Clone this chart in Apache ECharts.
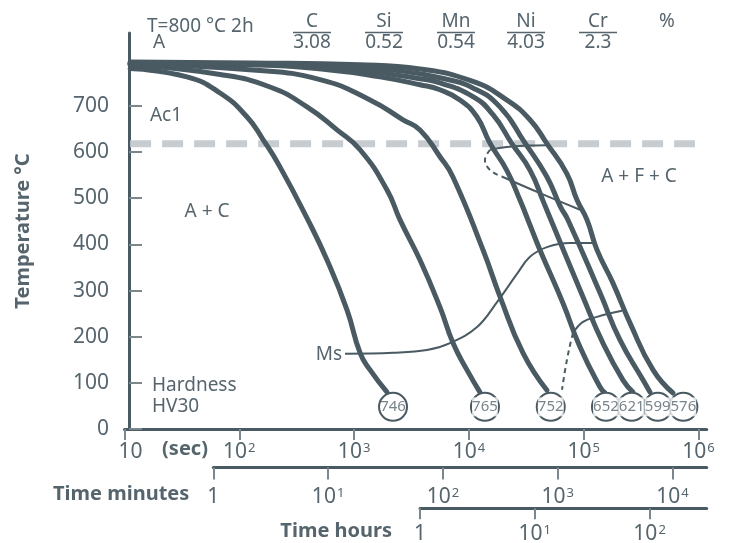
<!DOCTYPE html>
<html>
<head>
<meta charset="utf-8">
<script src="https://cdn.jsdelivr.net/npm/echarts@6/dist/echarts.min.js"></script>
<style>
html,body{margin:0;padding:0;background:#fff;}
#chart{width:729px;height:543px;}
</style>
</head>
<body>
<div id="chart"></div>
<script>
// ---------------- DATA ----------------
// Axis ticks / labels ("^" marks a superscript exponent)
const secTicks = [10, 100, 1000, 10000, 100000, 1000000];
const secLabels = ['10', '10^2', '10^3', '10^4', '10^5', '10^6'];
const minTicks = [1, 10, 100, 1000, 10000];
const minLabels = ['1', '10^1', '10^2', '10^3', '10^4'];
const hourTicks = [1, 10, 100];
const hourLabels = ['1', '10^1', '10^2'];
const tempTicks = [0, 100, 200, 300, 400, 500, 600, 700];

// Composition
const elements = ['C', 'Si', 'Mn', 'Ni', 'Cr'];
const contents = ['3.08', '0.52', '0.54', '4.03', '2.3'];
const austenitizing = 'T=800 °C 2h';

// Ac1 temperature (°C)
const ac1Temp = 618;
const ac1Span = [11.2, 931000];

// Cooling curves: [time (s), temperature (°C)]
const curve1 = [[11.2,781],[35,763],[68,728],[117,676],[161,627],[226,568],[396,453],[581,366],[867,258],[1127,165],[1377,128],[1936,80]];
const curve2 = [[11.2,789],[68,768],[185,741],[389,698],[710,648],[1127,605],[1936,518],[2512,453],[3750,366],[5598,264],[7261,187],[9616,128],[12470,80]];
const curve3 = [[11.2,791],[131.5,778],[505,757],[1377,713],[2667,670],[3750,648],[5598,590],[7261,546],[13270,388],[18660,287],[29580,165],[47860,84]];
const curve4 = [[11.2,791],[124,789],[617,778],[1683,763],[3750,746],[5598,735],[8356,713],[11700,677],[15280,619],[21330,561],[27860,496],[34040,442],[41590,388],[65920,273],[92680,178],[138700,91],[153500,78]];
const curve5 = [[11.2,793],[124,791],[753,782],[2051,769],[3750,759],[5598,750],[10840,720],[16220,681],[23610,619],[34040,561],[44980,490],[54080,442],[98630,286],[147200,186],[219800,106],[268500,80]];
const curve6 = [[11.2,793],[124,791],[920,785],[2512,776],[5598,761],[10840,739],[18620,698],[30760,620],[47640,547],[62660,482],[72950,453],[138700,295],[207000,193],[328900,106],[377600,80]];
const curve7 = [[11.2,795],[124,793],[1127,789],[3750,780],[10840,753],[21330,713],[34040,670],[47640,619],[71120,554],[87500,496],[106900,453],[130600,388],[179900,316],[252900,230],[401800,128],[599800,78]];
const coolingCurves = [curve1, curve2, curve3, curve4, curve5, curve6, curve7];

// Transformation lines
const msLine = [[833.7,163],[2183,165],[4315,171],[6839,186],[11780,221],[17580,275],[26240,336],[34040,373],[47860,394],[76030,403],[120500,403]];
const bainiteEnd = [[80720,208],[98630,232],[130600,243],[215800,256]];
const bainiteEndDashed = [[80720,208],[76030,182],[70150,139],[64710,85]];
const ferriteStart = [[15280,605],[21330,611],[31840,614],[47640,615]];
const ferriteStartDashed = [[15280,605],[13800,583],[15280,561],[19320,547]];
const pearliteLine = [[19320,547],[41590,511],[92900,475]];

// Hardness HV30 at end of each cooling curve
const hardnessTimes = [2183, 13800, 51640, 156300, 261800, 441600, 738200];
const hardnessValues = [746, 765, 752, 652, 621, 599, 576];

// ---------------- STYLE / LAYOUT ----------------
const FONT = 'Noto Sans';
const INK = '#4a5a62';
const TXT = '#56656d';
const TICK = '#7a878d';
const AC1_COLOR = '#c7ccd0';
const HARDNESS_ROW_T = 48;
const compX = [312, 384, 456, 526, 598];

function makeFmt(ticks, labels, shiftFirst) {
  return function (value) {
    const lv = Math.log10(value);
    const i = ticks.findIndex(t => Math.abs(Math.log10(t) - lv) < 1e-6);
    if (i < 0) return '';
    const parts = labels[i].split('^');
    if (parts.length > 1) return parts[0] + '{sup|' + parts[1] + '}';
    return (shiftFirst && i === 0) ? '{shift|' + parts[0] + '}' : parts[0];
  };
}
const richLab = {
  sup: { fontSize: 13, verticalAlign: 'top', color: TXT, fontFamily: FONT, padding: [0, 0, 0, 1] },
  shift: { fontSize: 21, color: TXT, fontFamily: FONT, padding: [0, 0, 0, 12] }
};
function logAxis(grid, min, max, ticks, labels, margin, tickLen, shiftFirst, name, nameGap, namePad) {
  const ax = {
    type: 'log', logBase: 10, gridIndex: grid, min: min, max: max,
    axisLine: { show: true, lineStyle: { color: INK, width: 3 } },
    axisTick: { show: true, customValues: ticks, length: tickLen, lineStyle: { color: TICK, width: 2 } },
    axisLabel: { customValues: ticks, formatter: makeFmt(ticks, labels, shiftFirst), margin: margin,
      color: TXT, fontSize: 21, fontFamily: FONT, rich: richLab },
    splitLine: { show: false },
    minorTick: { show: false }
  };
  if (name) {
    ax.name = name; ax.nameLocation = 'start'; ax.nameGap = nameGap; ax.nameMoveOverlap = false;
    ax.nameTextStyle = { color: TXT, fontSize: 20, fontWeight: 'bold', fontFamily: FONT,
      verticalAlign: 'top', padding: [namePad, 0, 0, 0] };
  }
  return ax;
}

function txt(text, x, y, extra) {
  return { type: 'text', x: x, y: y, silent: true, z: 10,
    style: Object.assign({ text: text, fill: TXT, fontSize: 19, fontFamily: FONT,
      align: 'center', verticalAlign: 'middle' }, extra || {}) };
}

const graphics = [
  txt(austenitizing, 147, 27, { align: 'left' }),
  txt('A', 159, 43),
  txt('%', 667, 22),
  txt('Ac1', 166, 116),
  txt('A + C', 207, 212),
  txt('A + F + C', 639, 177),
  txt('Ms', 329, 355),
  txt('Hardness', 152, 386, { align: 'left' }),
  txt('HV30', 152, 407, { align: 'left' }),
  txt('(sec)', 185, 449, { fontWeight: 'bold', fontSize: 20 })
];
elements.forEach((el, i) => {
  graphics.push(txt(el, compX[i], 22));
  graphics.push(txt(contents[i], compX[i], 43));
  graphics.push({ type: 'line', silent: true, z: 10,
    shape: { x1: compX[i] - 19, y1: 32.5, x2: compX[i] + 19, y2: 32.5 },
    style: { stroke: TXT, lineWidth: 1.5 } });
});

// ---------------- SERIES ----------------
const series = [];
series.push({
  type: 'line', xAxisIndex: 0, yAxisIndex: 0, z: 1, silent: true,
  data: [[ac1Span[0], ac1Temp], [ac1Span[1], ac1Temp]],
  showSymbol: false, symbol: 'none',
  lineStyle: { color: AC1_COLOR, width: 7, type: [21, 11], cap: 'butt' }
});
function thin(data, dashed) {
  return {
    type: 'line', xAxisIndex: 0, yAxisIndex: 0, z: 2, silent: true,
    data: data, showSymbol: false, symbol: 'none', smooth: 0.4,
    lineStyle: { color: INK, width: 2, type: dashed ? [5, 4] : 'solid' }
  };
}
series.push(thin(msLine, false));
series.push(thin(bainiteEnd, false));
series.push(thin(bainiteEndDashed, true));
series.push(thin(ferriteStart, false));
series.push(thin(ferriteStartDashed, true));
series.push(thin(pearliteLine, false));

coolingCurves.forEach(c => {
  series.push({
    type: 'line', xAxisIndex: 0, yAxisIndex: 0, z: 3, silent: true,
    data: c, showSymbol: false, symbol: 'none', smooth: 0.5,
    lineStyle: { color: INK, width: 5, cap: 'round', join: 'round' }
  });
});

const hardnessData = hardnessTimes.map((t, i) => [t, HARDNESS_ROW_T, hardnessValues[i]]);
// circles
series.push({
  type: 'scatter', xAxisIndex: 0, yAxisIndex: 0, z: 5, silent: true,
  symbol: 'circle', symbolSize: 28,
  itemStyle: { color: '#ffffff', borderColor: INK, borderWidth: 2, opacity: 1 },
  label: { show: false },
  data: hardnessData
});
// hardness numbers on top of all circles
series.push({
  type: 'scatter', xAxisIndex: 0, yAxisIndex: 0, z: 6, silent: true,
  symbol: 'circle', symbolSize: 1,
  itemStyle: { color: 'rgba(0,0,0,0)' },
  label: { show: true, position: 'inside', color: TXT, fontSize: 15, fontFamily: FONT,
    backgroundColor: '#ffffff', padding: [2, 0], formatter: p => String(p.value[2]) },
  data: hardnessData.map((d, i) => i === 0 ? { value: d, label: { backgroundColor: 'transparent' } } : d)
});

// ---------------- CHART ----------------
const chart = echarts.init(document.getElementById('chart'), null, { renderer: 'canvas' });
chart.setOption({
  backgroundColor: '#ffffff',
  animation: false,
  textStyle: { fontFamily: FONT },
  grid: [
    { left: 124.5, right: 22.3, top: 33, bottom: 114, outerBoundsMode: 'none', containLabel: false },
    { left: 213.3, right: 22.3, top: 460, height: 7.5, outerBoundsMode: 'none', containLabel: false },
    { left: 420, right: 22.3, top: 500, height: 8.3, outerBoundsMode: 'none', containLabel: false }
  ],
  xAxis: [
    logAxis(0, 10, 1179000, secTicks, secLabels, 13, 11, true),
    logAxis(1, 1, 19860, minTicks, minLabels, 19, 12, false, 'Time minutes', 24, 17),
    logAxis(2, 1, 314.4, hourTicks, hourLabels, 15, 11, false, 'Time hours', 28, 13)
  ],
  yAxis: [
    {
      type: 'value', gridIndex: 0, min: 0, max: 858, interval: 100, offset: -4.5,
      axisLine: { show: true, lineStyle: { color: INK, width: 3 } },
      axisTick: { show: true, inside: true, length: 13, customValues: tempTicks, lineStyle: { color: TICK, width: 2 } },
      axisLabel: { customValues: tempTicks, margin: 20, color: TXT, fontSize: 21, fontFamily: FONT },
      splitLine: { show: false },
      name: 'Temperature °C', nameLocation: 'middle', nameGap: 96, nameMoveOverlap: false,
      nameTextStyle: { color: TXT, fontSize: 20, fontWeight: 'bold', fontFamily: FONT }
    },
    { type: 'value', gridIndex: 1, show: false, min: 0, max: 1 },
    { type: 'value', gridIndex: 2, show: false, min: 0, max: 1 }
  ],
  graphic: graphics,
  series: series
});
</script>
</body>
</html>
